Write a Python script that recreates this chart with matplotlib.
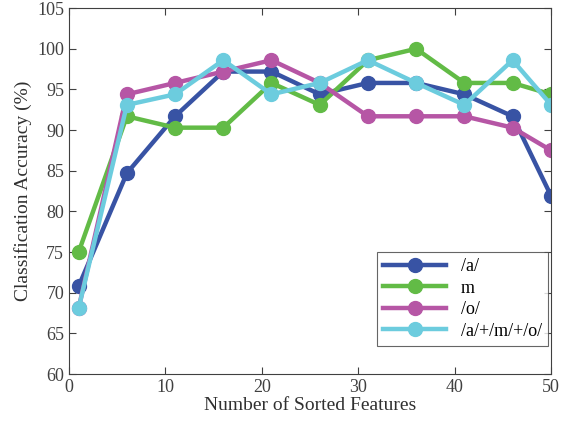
import numpy as np
import matplotlib.pyplot as plt

plt.rcParams['font.family'] = ['Liberation Serif', 'DejaVu Serif']

x = [1, 6, 11, 16, 21, 26, 31, 36, 41, 46, 50]
acc_a = [70.8, 84.7, 91.7, 97.2, 97.2, 94.4, 95.8, 95.8, 94.4, 91.7, 81.9]
acc_m = [75.0, 91.7, 90.3, 90.3, 95.8, 93.1, 98.6, 100.0, 95.8, 95.8, 94.4]
acc_o = [68.1, 94.4, 95.8, 97.2, 98.6, 95.8, 91.7, 91.7, 91.7, 90.3, 87.5]
acc_all = [68.1, 93.1, 94.4, 98.6, 94.4, 95.8, 98.6, 95.8, 93.1, 98.6, 93.1]
labels = ['/a/', 'm', '/o/', '/a/+/m/+/o/']
colors = ['#3853A4', '#62BB46', '#B656A5', '#6CCCDE']

fig = plt.figure(figsize=(5.67, 4.28), dpi=100)
ax = fig.add_axes([0.1217, 0.126, 0.8503, 0.855])

for ys, lab, c in zip([acc_a, acc_m, acc_o, acc_all], labels, colors):
    ax.plot(x, ys, '-o', color=c, lw=3.2, ms=10, label=lab)

ax.set_xlim(0, 50)
ax.set_ylim(60, 105)
ax.set_xticks(np.arange(0, 51, 10))
ax.set_yticks(np.arange(60, 106, 5))
ax.tick_params(direction='in', top=True, right=True, labelsize=13,
               colors='#404040', length=5)
for s in ax.spines.values():
    s.set_color('#404040')
ax.set_xlabel('Number of Sorted Features', fontsize=14, color='#303030', labelpad=1)
ax.set_ylabel('Classification Accuracy (%)', fontsize=14, color='#303030', labelpad=4)

leg = ax.legend(loc='lower right', bbox_to_anchor=(0.994, 0.0765), fontsize=13,
                fancybox=False, edgecolor='#404040', borderaxespad=0,
                handlelength=3.5, labelspacing=0.25, borderpad=0.35)
leg.get_frame().set_linewidth(0.8)

fig.savefig('out.png')
